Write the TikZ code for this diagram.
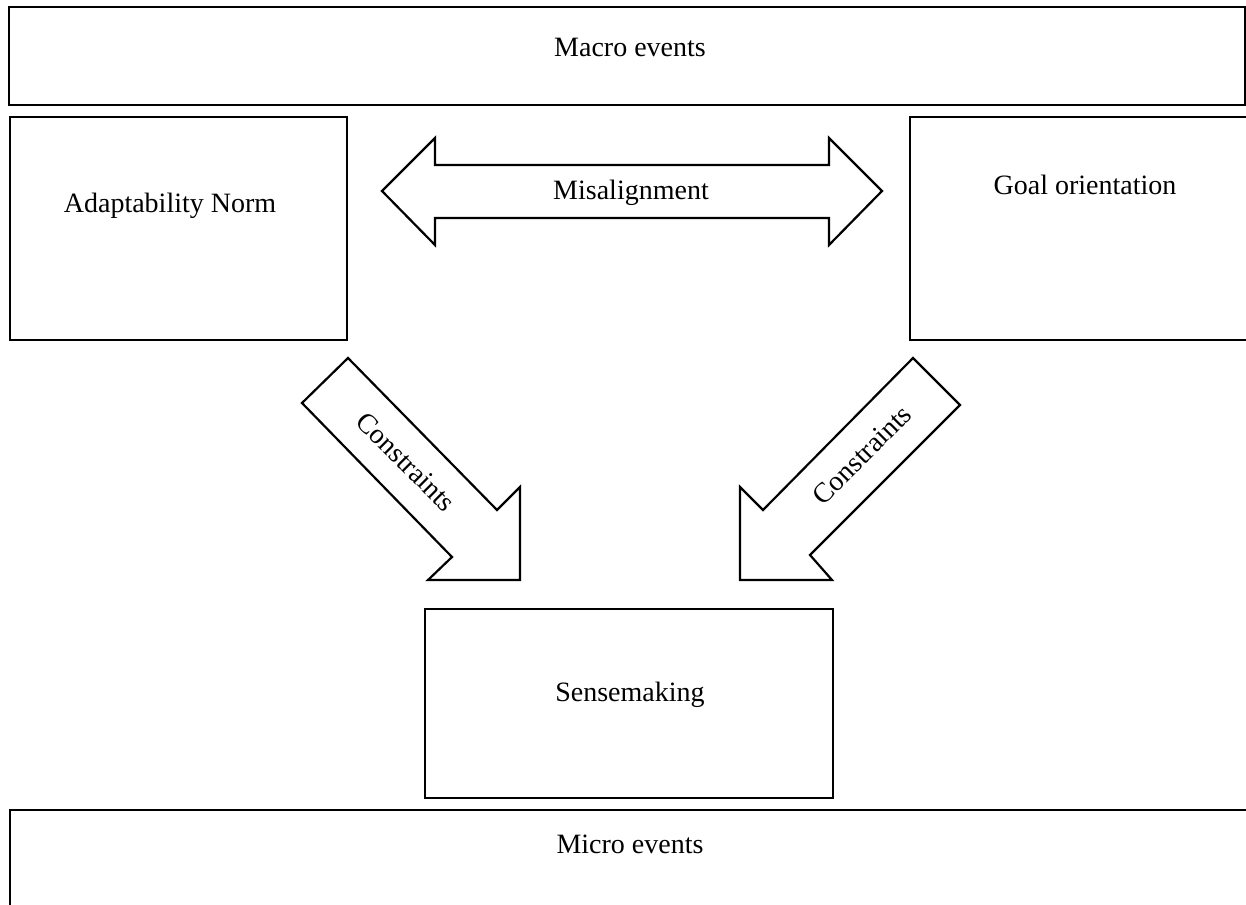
\documentclass[tikz,border=0pt]{standalone}
\usepackage{fontspec}
\setmainfont{Liberation Serif}
\begin{document}
\begin{tikzpicture}[x=0.5pt,y=-0.5pt,
  boxline/.style={draw=black,line width=1.1pt,line join=miter},
  lbl/.style={font=\fontsize{14}{16}\selectfont,inner sep=0pt,anchor=base},
  rlbl/.style={font=\fontsize{14}{16}\selectfont,inner sep=0pt,anchor=center}]
\useasboundingbox (0,0) rectangle (1246,904);
\clip (0,0) rectangle (1246,904);
% boxes
\coordinate (macroA) at (9,7);   \coordinate (macroB) at (1245,105);
\coordinate (adaptA) at (10,117); \coordinate (adaptB) at (347,340);
\coordinate (goalA) at (910,117); \coordinate (goalB) at (1270,340);
\coordinate (senseA) at (425,609); \coordinate (senseB) at (833,798);
\coordinate (microA) at (10,810); \coordinate (microB) at (1270,930);
\draw[boxline] (macroA) rectangle (macroB);
\draw[boxline] (adaptA) rectangle (adaptB);
\draw[boxline] (goalA) rectangle (goalB);
\draw[boxline] (senseA) rectangle (senseB);
\draw[boxline] (microA) rectangle (microB);
% labels
\node[lbl] (macro) at (630,57) {Macro events};
\node[lbl] (adapt) at (170,212) {Adaptability Norm};
\node[lbl] (goal) at (1085,194) {Goal orientation};
\node[lbl] (sense) at (630,701) {Sensemaking};
\node[lbl] (micro) at (630,853) {Micro events};
% double arrow
\draw[boxline] (382,191) -- (435,138) -- (435,165) -- (829,165) -- (829,138) -- (882,191)
  -- (829,245) -- (829,218) -- (435,218) -- (435,245) -- cycle;
\node[lbl] (mis) at (631,199) {Misalignment};
% left constraints arrow
\draw[boxline] (348,358) -- (302,403) -- (452,557) -- (428,580) -- (520,580) -- (520,487)
  -- (497,510) -- cycle;
\node[rlbl,rotate=-45] (cl) at (406,462) {Constraints};
% right constraints arrow
\draw[boxline] (913,358) -- (960,405) -- (810,555) -- (832,580) -- (740,580) -- (740,487)
  -- (763,510) -- cycle;
\node[rlbl,rotate=45] (cr) at (862,455) {Constraints};
\end{tikzpicture}
\end{document}
